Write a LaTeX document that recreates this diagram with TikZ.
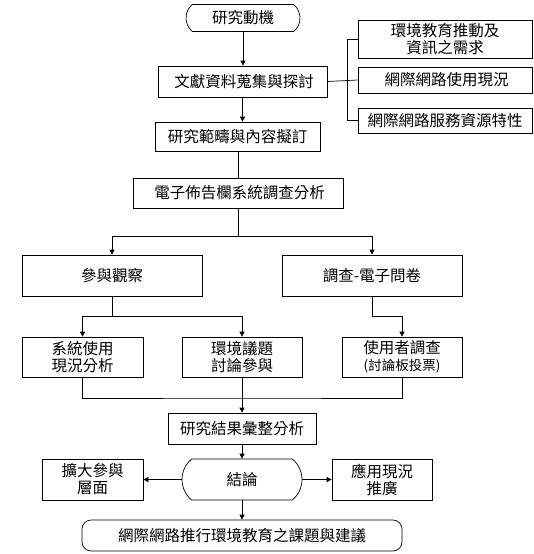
\documentclass[tikz,border=0pt]{standalone}
\usepackage{fontspec}
\newfontfamily\cjk{Noto Sans CJK TC}
\usetikzlibrary{arrows.meta,shapes.misc}

\begin{document}
\begin{tikzpicture}[x=1pt, y=-1pt, line width=0.7pt,
    every node/.style={font=\cjk\fontsize{15.5}{17}\selectfont, align=center, inner sep=0pt},
    box/.style={draw, rectangle},
    term/.style={draw, rounded rectangle, rounded rectangle arc length=100},
    endbox/.style={draw, rectangle, rounded corners=9pt},
    arr/.style={-{Triangle[width=5pt,length=5pt]}}]
    \useasboundingbox (0,0) rectangle (533,554);

    % main column
    \node[term, minimum width=114, minimum height=27] (mot) at (243,18) {研究動機};
    \node[box, minimum width=169, minimum height=31] (lit) at (242.5,81.5) {\ 文獻資料蒐集與探討};
    \node[box, minimum width=165, minimum height=29] (scope) at (237.5,136.5) {研究範疇與內容擬訂};
    \node[box, minimum width=210, minimum height=30] (bbs) at (238,193) {\ 電子佈告欄系統調查分析};

    % right bracket
    \node[box, minimum width=174, minimum height=38] (need) at (445,39) {環境教育推動及\\資訊之需求};
    \node[box, minimum width=174, minimum height=26] (net) at (445,80) {\ 網際網路使用現況};
    \node[box, minimum width=174, minimum height=25] (srv) at (445,120.5) {網際網路服務資源特性};

    % methods
    \node[box, minimum width=180, minimum height=41] (obs) at (112,275.5) {參與觀察};
    \node[box, minimum width=180, minimum height=41] (svy) at (372,275.5) {調查-電子問卷};
    \node[box, minimum width=121, minimum height=40] (use) at (82.5,357) {系統使用\\現況分析};
    \node[box, minimum width=120, minimum height=40] (env) at (242,357) {環境議題\\討論參與};
    \node[box, minimum width=120, minimum height=40] (usr) at (402,357) {使用者調查\\{\fontsize{13.5}{15}\selectfont(討論板投票)}};

    % results
    \node[box, minimum width=148, minimum height=31] (res) at (242,428.5) {研究結果彙整分析};
    \node[term, minimum width=120, minimum height=41] (con) at (242,479.5) {結論};
    \node[box, minimum width=101, minimum height=41] (exp) at (92.5,479.5) {擴大參與\\層面};
    \node[box, minimum width=100, minimum height=41] (app) at (382,479.5) {應用現況\\推廣};
    \node[endbox, minimum width=320, minimum height=31] (fin) at (242,535.5) {網際網路推行環境教育之課題與建議};

    % connectors
    \draw[arr] (mot.south) -- (mot.south |- lit.north);
    \draw[arr] (lit.south) -- (lit.south |- scope.north);
    \draw (lit.east) -- (net.west);
    \draw (need.west) -- ++(-10,0) |- (srv.west);
    \draw (scope.south -| bbs.north) -- (bbs.north);

    \draw (bbs.south) -- ++(0,28) coordinate (s1);
    \draw[arr] (s1) -| (obs.north);
    \draw[arr] (s1) -| (svy.north);

    \draw (obs.south) -- ++(0,20) coordinate (s2);
    \draw[arr] (s2) -| (use.north);
    \draw[arr] (s2) -| (env.north);
    \draw[arr] (svy.south) |- ++(30,20) -- (usr.north);

    \coordinate (m) at (242,398);
    \draw (use.south) |- (m) -| (usr.south);
    \draw (env.south) -- (m);
    \draw[arr] (m) -- (res.north);

    \draw[arr] (res.south) -- (con.north);
    \draw[arr] (con.west) -- (exp.east);
    \draw[arr] (con.east) -- (app.west);
    \draw[arr] (con.south) -- (fin.north);
\end{tikzpicture}
\end{document}
